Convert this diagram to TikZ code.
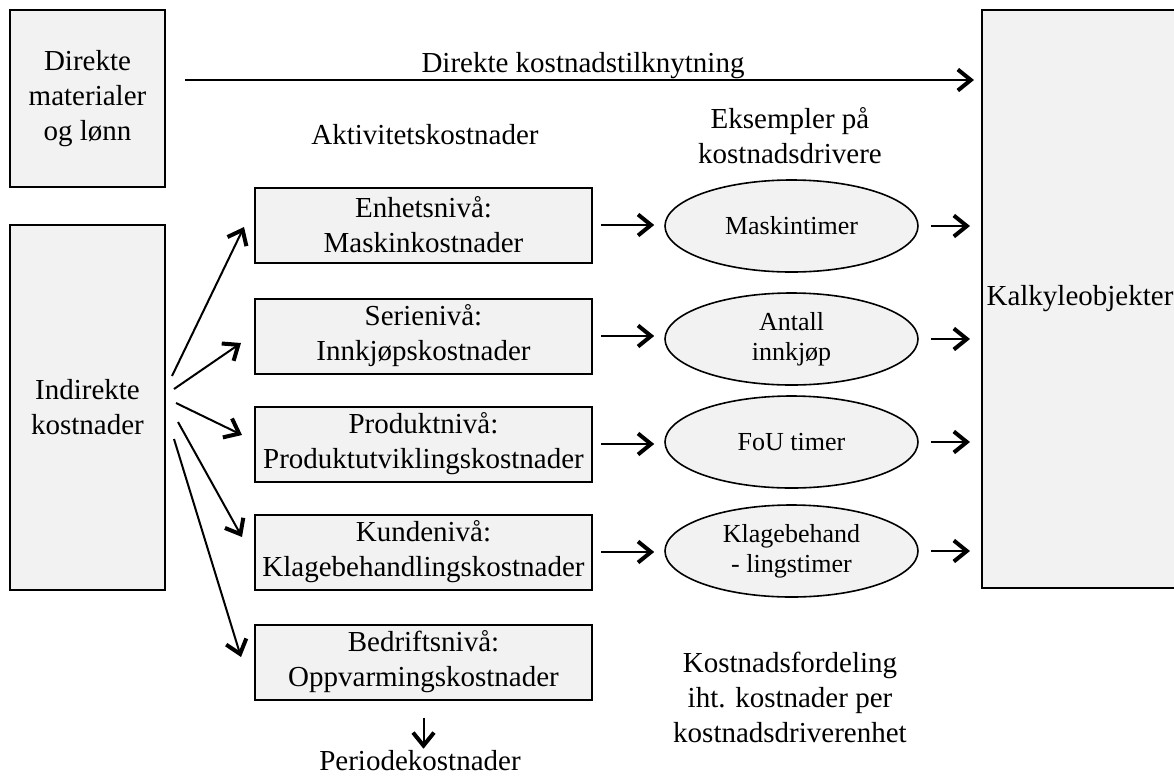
\documentclass[tikz,border=0pt]{standalone}
\usepackage{fontspec}
\setmainfont{Liberation Serif}
\usetikzlibrary{arrows.meta,shapes.geometric,positioning,calc}
\definecolor{boxgray}{RGB}{242,242,242}

\begin{document}
\begin{tikzpicture}[x=0.5pt,y=-0.5pt,
    costbox/.style={draw,line width=1pt,fill=boxgray,align=center,
      inner sep=0pt,font=\fontsize{14.5}{17.5}\selectfont},
    actbox/.style={costbox,minimum width=168.5pt,minimum height=37.5pt},
    driver/.style={ellipse,draw,line width=0.8pt,fill=boxgray,
      align=center,inner sep=0pt,minimum width=126.5pt,
      minimum height=46pt,font=\fontsize{13}{15}\selectfont},
    lbl/.style={align=center,font=\fontsize{14.5}{17.5}\selectfont},
    arr/.style={line width=1pt,
      -{Straight Barb[length=6.5pt,width=10.5pt,line width=2pt]}}]
  \useasboundingbox (0,0) rectangle (1174,778);
  %% Left column
  \node[costbox,minimum width=77.5pt,minimum height=88.5pt] (dir)
    at (87.5,98.5) {Direkte\\materialer\\og lønn};
  \node[costbox,minimum width=77.5pt,minimum height=182.5pt] (ind)
    at (87.5,407.5) {Indirekte\\kostnader};
  %% Cost objects
  \node[costbox,minimum width=98pt,minimum height=289pt] (kalk)
    at (1080,299) {Kalkyleobjekter};
  %% Activity levels
  \node[actbox] (enh) at (423.5,225) {Enhetsnivå:\\Maskinkostnader};
  \node[actbox] (ser) at (423.5,336) {Serienivå:\\Innkjøpskostnader};
  \node[actbox] (prod) at (423.5,444)
    {Produktnivå:\\Produktutviklingskostnader};
  \node[actbox] (kund) at (423.5,552)
    {Kundenivå:\\Klagebehandlingskostnader};
  \node[actbox] (bedr) at (423.5,662)
    {Bedriftsnivå:\\Oppvarmingskostnader};
  %% Cost drivers
  \node[driver] (mask) at (791.5,226) {Maskintimer};
  \node[driver] (innk) at (791.5,339) {Antall\\innkjøp};
  \node[driver] (fou) at (791.5,442) {FoU timer};
  \node[driver] (klag) at (791.5,551) {Klagebehand\\- lingstimer};
  %% Headings
  \node[lbl] (akt) at (425,135) {Aktivitetskostnader};
  \node[lbl] (eks) at (790,136) {Eksempler på\\kostnadsdrivere};
  \node[lbl] (ford) at (790,697)
    {Kostnadsfordeling\\iht. kostnader per\\kostnadsdriverenhet};
  \node[lbl] (per) at (420,761) {Periodekostnader};
  %% Direct costs
  \coordinate (dstart) at (185,80);
  \draw[arr,shorten >=3.5pt] (dstart) -- (dstart -| kalk.west)
    node[lbl,midway,above=-3pt] {Direkte kostnadstilknytning};
  %% Indirect costs fan out
  \coordinate (f1) at (172,376);
  \coordinate (f2) at (174,389);
  \coordinate (f3) at (176,403);
  \coordinate (f4) at (178,422);
  \coordinate (f5) at (174,439);
  \draw[arr] (f1) -- ([shift={(-10,2)}]enh.west);
  \draw[arr] (f2) -- ([shift={(-13,7)}]ser.west);
  \draw[arr] (f3) -- ([shift={(-12,-9)}]prod.west);
  \draw[arr] (f4) -- ([shift={(-12,-15)}]kund.west);
  \draw[arr] (f5) -- ([shift={(-13,-5)}]bedr.west);
  %% Activities to drivers
  \draw[arr,shorten <=4pt,shorten >=5pt] (enh.east) -- (enh.east -| mask.west);
  \draw[arr,shorten <=4pt,shorten >=5pt] (ser.east) -- (ser.east -| innk.west);
  \draw[arr,shorten <=4pt,shorten >=5pt] (prod.east) -- (prod.east -| fou.west);
  \draw[arr,shorten <=4pt,shorten >=5pt] (kund.east) -- (kund.east -| klag.west);
  %% Drivers to cost objects
  \draw[arr,shorten <=6pt,shorten >=5.5pt] (mask.east) -- (mask.east -| kalk.west);
  \draw[arr,shorten <=6pt,shorten >=5.5pt] (innk.east) -- (innk.east -| kalk.west);
  \draw[arr,shorten <=6pt,shorten >=5.5pt] (fou.east) -- (fou.east -| kalk.west);
  \draw[arr,shorten <=6pt,shorten >=5.5pt] (klag.east) -- (klag.east -| kalk.west);
  %% Period costs
  \draw[arr,shorten <=8.5pt,shorten >=-2.5pt] (bedr.south) -- (bedr.south |- per.north);
\end{tikzpicture}
\end{document}
